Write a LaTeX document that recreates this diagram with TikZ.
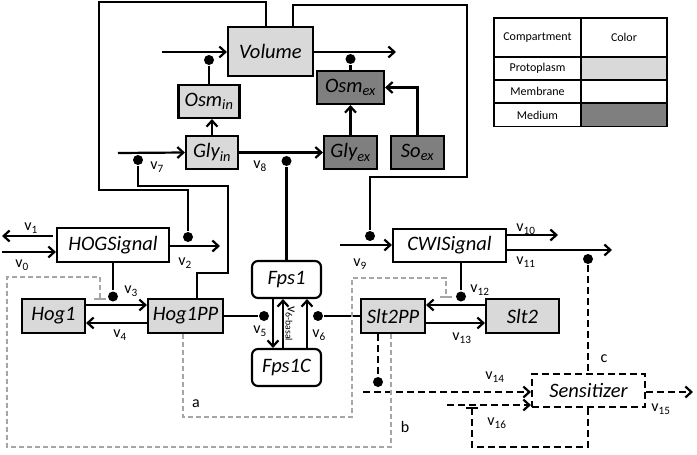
\documentclass[tikz,border=0pt]{standalone}
\usepackage{fontspec}
\setmainfont{Carlito}
\usetikzlibrary{arrows.meta, positioning}
\definecolor{protgray}{HTML}{D9D9D9}
\definecolor{medgray}{HTML}{7F7F7F}
\definecolor{linegray}{HTML}{A6A6A6}

\begin{document}
\begin{tikzpicture} [x=1pt, y=-1pt,
            line width=2.2pt,
            on grid,
            box/.style = {draw, line width=2.1pt, inner sep=0pt,
                minimum height=34pt,
                font=\fontsize{20.5}{22}\selectfont\itshape},
            prot/.style = {box, fill=protgray},
            membrane/.style = {box, fill=white},
            medium/.style = {box, fill=medgray},
            rbox/.style = {box, rounded corners=6pt, minimum height=37pt},
            dbox/.style = {box, dash pattern=on 7pt off 4pt, minimum height=33pt},
            mod/.style = {circle, fill=black, inner sep=0pt, minimum size=10pt},
            flux/.style = {font=\fontsize{16}{17}\selectfont, inner sep=0pt},
            cell/.style = {draw, line width=1.2pt, inner sep=0pt,
                font=\fontsize{12}{13}\selectfont},
            arr/.style = {-{Straight Barb[length=6pt, width=11pt]}},
            sensline/.style = {dash pattern=on 7pt off 4pt},
            grayline/.style = {draw=linegray, line width=1.7pt,
                dash pattern=on 5pt off 3pt},
            inhib/.style = {-{Bar[width=12pt]}}]

        \useasboundingbox (0,0) rectangle (697,455);

        % Volume
        \node (vol) [prot, minimum width=85pt, minimum height=49pt]
            at (270.5,51.5) {Volume};

        % Gly in
        \node (glyin) [prot, minimum width=52pt, minimum height=33pt]
            at (212,152.5) {Gly\textsubscript{in}};

        % Osm in
        \node (osmin) [prot, minimum width=61pt, minimum height=33pt,
            above left = 51pt and 3pt of glyin] {Osm\textsubscript{in}};

        % Gly ex
        \node (glyex) [medium, minimum width=53pt, minimum height=33pt,
            right = 138.5pt of glyin] {Gly\textsubscript{ex}};

        % So ex
        \node (soex) [medium, minimum width=53pt, minimum height=33pt,
            right = 67pt of glyex] {So\textsubscript{ex}};

        % Osm ex
        \node (osmex) [medium, minimum width=67pt, minimum height=33pt,
            above = 65pt of glyex] {Osm\textsubscript{ex}};

        % Hog1
        \node (hog1) [prot, minimum width=63pt] at (53.5,316) {Hog1};

        % Hog1PP
        \node (hog1pp) [prot, minimum width=75pt,
            right = 132pt of hog1] {Hog1PP};

        % HOGSignal
        \node (hogsig) [membrane, minimum width=112pt,
            above right = 71pt and 59.5pt of hog1] {HOGSignal};

        % Slt2PP
        \node (slt2pp) [prot, minimum width=64pt,
            right = 207.5pt of hog1pp] {Slt2PP};

        % Slt2
        \node (slt2) [prot, minimum width=73pt,
            right = 129.5pt of slt2pp] {Slt2};

        % CWISignal
        \node (cwisig) [membrane, minimum width=113pt, minimum height=33pt,
            above right = 70.5pt and 56.5pt of slt2pp] {CWISignal};

        % Fps1
        \node (fps1) [rbox, minimum width=69pt] at (286.5,279.5) {Fps1};

        % Fps1C
        \node (fps1c) [rbox, minimum width=69pt,
            below = 88pt of fps1] {Fps1C};

        % Sensitizer
        \node (sens) [dbox, minimum width=113pt] at (588.5,390.5) {Sensitizer};

        % Modifier dots
        \node (dvin) [mod] at (209,60) {};
        \node (dvout) [mod] at (350.5,59) {};
        \node (d7) [mod] at (138,160) {};
        \node (d8) [mod] at (286.5,161) {};
        \node (d2) [mod] at (188,237) {};
        \node (d3) [mod] at (113,296.5) {};
        \node (d5) [mod] at (264,316) {};
        \node (d6) [mod] at (318,316) {};
        \node (d9) [mod] at (370,236) {};
        \node (d11) [mod] at (588,259) {};
        \node (d12) [mod] at (461,296.5) {};
        \node (d14) [mod] at (378,382) {};

        % Free ends
        \coordinate (vin) at (162,52);
        \coordinate (vout) at (396,52);
        \coordinate (gin) at (118,153);
        \coordinate (v1end) at (2,236);
        \coordinate (v1start) at (53,236);
        \coordinate (v0start) at (2,252);
        \coordinate (v2end) at (220,246);
        \coordinate (v9start) at (340,245);
        \coordinate (v10end) at (558,235);
        \coordinate (v11end) at (612,250);
        \coordinate (v14start) at (363,392);
        \coordinate (v15end) at (693,392);
        \coordinate (v16start) at (447,405);

        % Top part
        \draw [arr] (vin) -- (vol.west |- vin);
        \draw [arr] (vol.east |- vout) -- (vout);
        \draw (osmin.north) -- (dvin);
        \draw (osmex.north) -- (dvout);
        \draw [arr] (glyin.north) -- (glyin.north |- osmin.south);
        \draw [arr] (glyex) -- (osmex);
        \draw [arr] (soex.north) |- (osmex.east);
        \draw [arr] (gin) -- (glyin.west);
        \draw [arr] (glyin) -- (glyex);

        % Feedback lines
        \draw ([xshift=-4.5pt]vol.north) |- (99,2) |- (188,190) -- (d2);
        \draw ([xshift=22.5pt]vol.north) |- (467,5) |- (370,177) -- (d9);
        \draw ([xshift=11.5pt]hog1pp.north) |- (228,273) |- (138,186) -- (d7);
        \draw (fps1.north) -- (d8);

        % HOG branch
        \draw [arr] (v1start) -- (v1end);
        \draw [arr] (v0start) -- (hogsig.west |- v0start);
        \draw [arr] (hogsig.east |- v2end) -- (v2end);
        \draw (hogsig.south) -- (d3);
        \draw [arr] ([yshift=11pt]hog1.east) -- ([yshift=11pt]hog1pp.west);
        \draw [arr] ([yshift=-7pt]hog1pp.west) -- ([yshift=-7pt]hog1.east);
        \draw (hog1pp.east) -- (d5);

        % Fps1
        \draw [arr] ([xshift=-13.5pt]fps1.south) -- ([xshift=-13.5pt]fps1c.north);
        \draw [arr] ([xshift=-3.5pt]fps1c.north) -- ([xshift=-3.5pt]fps1.south);
        \draw [arr] ([xshift=20.5pt]fps1c.north) -- ([xshift=20.5pt]fps1.south);
        \draw (slt2pp.west) -- (d6);

        % CWI branch
        \draw [arr] (v9start) -- (cwisig.west |- v9start);
        \draw [arr] (cwisig.east |- v10end) -- (v10end);
        \draw [arr] (cwisig.east |- v11end) -- (v11end);
        \draw (cwisig.south -| d12) -- (d12);
        \draw [arr] ([yshift=11pt]slt2.west) -- ([yshift=11pt]slt2pp.east);
        \draw [arr] ([yshift=-7pt]slt2pp.east) -- ([yshift=-7pt]slt2.west);

        % Sensitizer
        \draw [sensline] (d11) -- (sens.north -| d11);
        \draw [sensline] (slt2pp.south -| d14) -- (d14);
        \draw [arr, sensline] (v14start) -- (sens.west |- v14start);
        \draw [arr, sensline] (sens.east |- v15end) -- (v15end);
        \draw [arr, sensline] (v16start) -- (sens.west |- v16start);
        \draw [inhib, sensline] (sens.south -| d11) |- (472,447) -- (472,407);

        % Gray inhibition lines
        \draw [grayline, inhib] ([xshift=-2.5pt]hog1pp.south) |- (352,417)
            |- (446,278) -- (446,298);
        \draw [grayline, inhib] ([xshift=-2pt]slt2pp.south) |- (7,447)
            |- (100,277) -- (100,300);

        % Flux labels
        \node (lv0) [flux] at (22,265) {v\textsubscript{0}};
        \node (lv1) [flux] at (31,228) {v\textsubscript{1}};
        \node (lv2) [flux] at (185,263) {v\textsubscript{2}};
        \node (lv3) [flux] at (131,291) {v\textsubscript{3}};
        \node (lv4) [flux] at (120,335) {v\textsubscript{4}};
        \node (lv5) [flux] at (260,331) {v\textsubscript{5}};
        \node (lv6) [flux] at (319,335) {v\textsubscript{6}};
        \node (lv6b) [flux, font=\fontsize{14}{15}\selectfont, rotate=-90]
            at (290,324) {v\textsubscript{6-basal}};
        \node (lv7) [flux] at (157,167) {v\textsubscript{7}};
        \node (lv8) [flux] at (260,166) {v\textsubscript{8}};
        \node (lv9) [flux] at (360,264) {v\textsubscript{9}};
        \node (lv10) [flux] at (526,229) {v\textsubscript{10}};
        \node (lv11) [flux] at (526,262) {v\textsubscript{11}};
        \node (lv12) [flux] at (480,290) {v\textsubscript{12}};
        \node (lv13) [flux] at (462,338) {v\textsubscript{13}};
        \node (lv14) [flux] at (495,377) {v\textsubscript{14}};
        \node (lv15) [flux] at (661,409) {v\textsubscript{15}};
        \node (lv16) [flux] at (497,423) {v\textsubscript{16}};
        \node (la) [flux] at (196,404) {a};
        \node (lb) [flux] at (405,427) {b};
        \node (lc) [flux] at (604,359) {c};

        % Legend
        \node (hcomp) [cell, minimum width=87pt, minimum height=39pt]
            at (537.5,37.5) {Compartment};
        \node (hcol) [cell, minimum width=86pt, minimum height=39pt,
            right = 86.5pt of hcomp] {Color};
        \foreach \name/\fillc/\yy [count=\i] in
            {Protoplasm/protgray/68.5, Membrane/white/91.5, Medium/medgray/115} {
            \node (comp\i) [cell, minimum width=87pt, minimum height=23pt]
                at (537.5,\yy) {\name};
            \node (col\i) [cell, minimum width=86pt, minimum height=23pt,
                fill=\fillc, right = 86.5pt of comp\i] {};
        }
\end{tikzpicture}
\end{document}
